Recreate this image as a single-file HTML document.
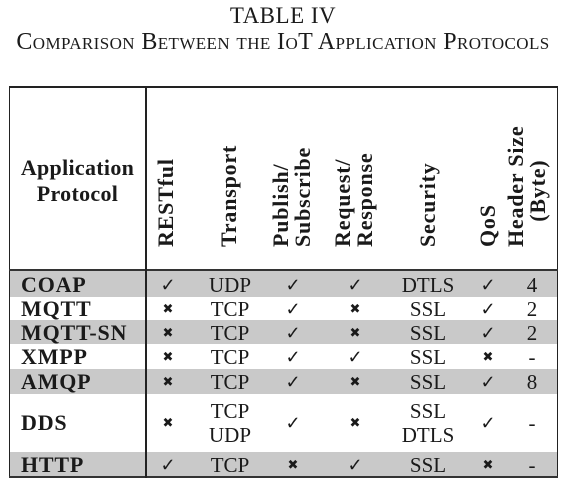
<!DOCTYPE html>
<html><head><style>
body{margin:0;width:566px;height:486px;background:#fff;position:relative;overflow:hidden;font-family:"Liberation Serif","Times New Roman",serif;color:#1a1a1a}
.a{position:absolute}
.t{position:absolute;left:0;width:566px;text-align:center}
.row{position:absolute;left:10px;width:547px}
.g{background:#c9c9c9}
.c{position:absolute;text-align:center;font-size:21px;line-height:24px}
.n{position:absolute;left:21px;font-weight:bold;font-size:22px;line-height:24px;letter-spacing:0.8px}
.h{position:absolute;font-weight:bold;font-size:22px;line-height:22px;transform-origin:0 0;transform:rotate(-90deg);white-space:nowrap;text-align:left;letter-spacing:0.8px}
.x{font-size:13px}
.k{font-size:18px}
</style></head><body>
<div class="t" style="top:3px;font-size:23px;letter-spacing:0.5px">TABLE IV</div>
<div class="t" style="top:29px;font-size:24px;font-variant:small-caps;letter-spacing:0.4px;white-space:nowrap">Comparison Between the IoT Application Protocols</div>

<div class="a" style="left:9px;top:86px;width:549px;height:2px;background:#222"></div>
<div class="a" style="left:9px;top:86px;width:1px;height:392px;background:#222"></div>
<div class="a" style="left:557px;top:86px;width:1px;height:392px;background:#222"></div>
<div class="a" style="left:9px;top:476px;width:549px;height:2px;background:#333"></div>
<div class="a" style="left:9px;top:269px;width:549px;height:2px;background:#333"></div>

<div class="a" style="left:10px;top:155px;width:135px;text-align:center;font-weight:bold;font-size:22px;line-height:26px;letter-spacing:0.3px">Application<br>Protocol</div>
<div class="h" style="left:155px;top:247px">RESTful</div>
<div class="h" style="left:218px;top:247px">Transport</div>
<div class="h" style="left:270px;top:247px">Publish/<br>Subscribe</div>
<div class="h" style="left:332px;top:247px">Request/<br>Response</div>
<div class="h" style="left:417px;top:247px">Security</div>
<div class="h" style="left:477px;top:247px">QoS</div>
<div class="h" style="left:505px;top:247px">Header Size<br>&nbsp;&nbsp;&nbsp;&nbsp;(Byte)</div>

<div class="row g" style="top:271px;height:26px"></div>
<div class="row g" style="top:320px;height:24px"></div>
<div class="row g" style="top:369px;height:25px"></div>
<div class="row g" style="top:452px;height:24px"></div>

<div class="a" style="left:145px;top:86px;width:2px;height:392px;background:#222"></div>

<div class="n" style="top:273px">COAP</div>
<div class="n" style="top:297px">MQTT</div>
<div class="n" style="top:321px">MQTT-SN</div>
<div class="n" style="top:345px">XMPP</div>
<div class="n" style="top:370px">AMQP</div>
<div class="n" style="top:411px">DDS</div>
<div class="n" style="top:453px">HTTP</div>

<div class="c k" style="left:147px;width:42px;top:273px">✓</div>
<div class="c x" style="left:147px;width:42px;top:297px">✖</div>
<div class="c x" style="left:147px;width:42px;top:321px">✖</div>
<div class="c x" style="left:147px;width:42px;top:345px">✖</div>
<div class="c x" style="left:147px;width:42px;top:370px">✖</div>
<div class="c x" style="left:147px;width:42px;top:411px">✖</div>
<div class="c k" style="left:147px;width:42px;top:453px">✓</div>

<div class="c" style="left:195px;width:70px;top:273px">UDP</div>
<div class="c" style="left:195px;width:70px;top:297px">TCP</div>
<div class="c" style="left:195px;width:70px;top:321px">TCP</div>
<div class="c" style="left:195px;width:70px;top:345px">TCP</div>
<div class="c" style="left:195px;width:70px;top:370px">TCP</div>
<div class="c" style="left:195px;width:70px;top:399px">TCP<br>UDP</div>
<div class="c" style="left:195px;width:70px;top:453px">TCP</div>

<div class="c k" style="left:270px;width:46px;top:273px">✓</div>
<div class="c k" style="left:270px;width:46px;top:297px">✓</div>
<div class="c k" style="left:270px;width:46px;top:321px">✓</div>
<div class="c k" style="left:270px;width:46px;top:345px">✓</div>
<div class="c k" style="left:270px;width:46px;top:370px">✓</div>
<div class="c k" style="left:270px;width:46px;top:411px">✓</div>
<div class="c x" style="left:270px;width:46px;top:453px">✖</div>

<div class="c k" style="left:332px;width:46px;top:273px">✓</div>
<div class="c x" style="left:332px;width:46px;top:297px">✖</div>
<div class="c x" style="left:332px;width:46px;top:321px">✖</div>
<div class="c k" style="left:332px;width:46px;top:345px">✓</div>
<div class="c x" style="left:332px;width:46px;top:370px">✖</div>
<div class="c x" style="left:332px;width:46px;top:411px">✖</div>
<div class="c k" style="left:332px;width:46px;top:453px">✓</div>

<div class="c" style="left:390px;width:76px;top:273px">DTLS</div>
<div class="c" style="left:390px;width:76px;top:297px">SSL</div>
<div class="c" style="left:390px;width:76px;top:321px">SSL</div>
<div class="c" style="left:390px;width:76px;top:345px">SSL</div>
<div class="c" style="left:390px;width:76px;top:370px">SSL</div>
<div class="c" style="left:390px;width:76px;top:399px">SSL<br>DTLS</div>
<div class="c" style="left:390px;width:76px;top:453px">SSL</div>

<div class="c k" style="left:472px;width:32px;top:273px">✓</div>
<div class="c k" style="left:472px;width:32px;top:297px">✓</div>
<div class="c k" style="left:472px;width:32px;top:321px">✓</div>
<div class="c x" style="left:472px;width:32px;top:345px">✖</div>
<div class="c k" style="left:472px;width:32px;top:370px">✓</div>
<div class="c k" style="left:472px;width:32px;top:411px">✓</div>
<div class="c x" style="left:472px;width:32px;top:453px">✖</div>

<div class="c" style="left:512px;width:40px;top:273px">4</div>
<div class="c" style="left:512px;width:40px;top:297px">2</div>
<div class="c" style="left:512px;width:40px;top:321px">2</div>
<div class="c" style="left:512px;width:40px;top:345px">-</div>
<div class="c" style="left:512px;width:40px;top:370px">8</div>
<div class="c" style="left:512px;width:40px;top:411px">-</div>
<div class="c" style="left:512px;width:40px;top:453px">-</div>
</body></html>
